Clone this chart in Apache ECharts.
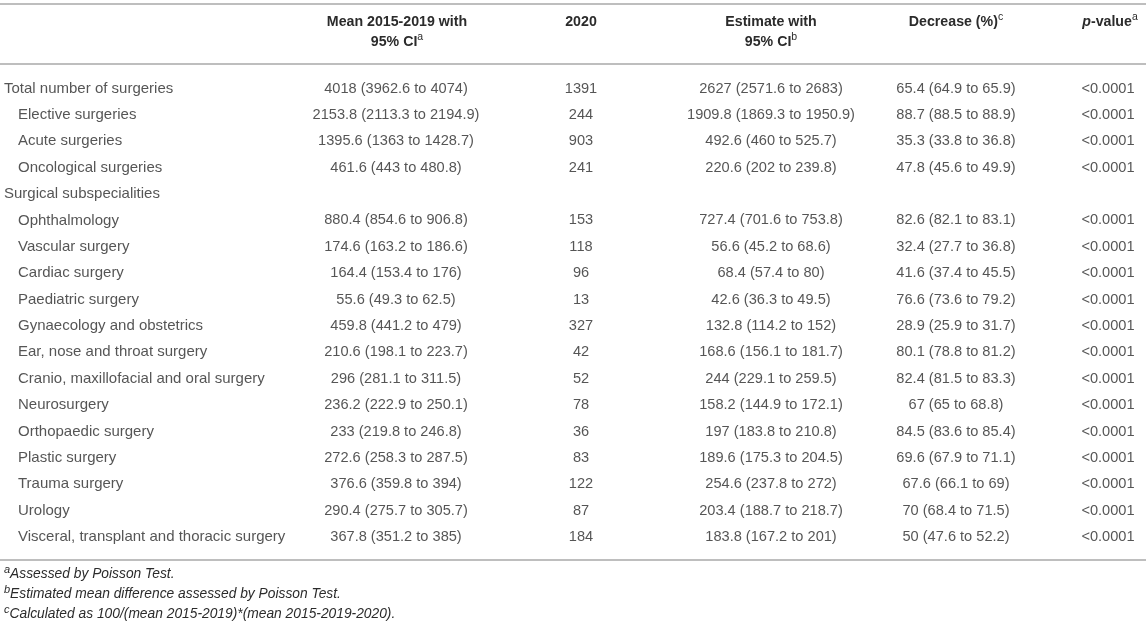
<!DOCTYPE html>
<html>
<head>
<meta charset="utf-8">
<script src="https://cdn.jsdelivr.net/npm/echarts@6/dist/echarts.min.js"></script>
<style>
  html, body { margin: 0; padding: 0; background: #fff; }
  #chart { width: 1146px; height: 628px; }
</style>
</head>
<body>
<div id="chart"></div>
<script>
// table rows
const ROW_LABELS = [
  'Total number of surgeries', 'Elective surgeries', 'Acute surgeries', 'Oncological surgeries',
  'Surgical subspecialities', 'Ophthalmology', 'Vascular surgery', 'Cardiac surgery',
  'Paediatric surgery', 'Gynaecology and obstetrics', 'Ear, nose and throat surgery',
  'Cranio, maxillofacial and oral surgery', 'Neurosurgery', 'Orthopaedic surgery',
  'Plastic surgery', 'Trauma surgery', 'Urology', 'Visceral, transplant and thoracic surgery'
];
const ROW_INDENT = [0, 1, 1, 1, 0, 1, 1, 1, 1, 1, 1, 1, 1, 1, 1, 1, 1, 1];

// mean 2015-2019 with 95% CI
const MEAN    = [4018, 2153.8, 1395.6, 461.6, null, 880.4, 174.6, 164.4, 55.6, 459.8, 210.6, 296, 236.2, 233, 272.6, 376.6, 290.4, 367.8];
const MEAN_LO = [3962.6, 2113.3, 1363, 443, null, 854.6, 163.2, 153.4, 49.3, 441.2, 198.1, 281.1, 222.9, 219.8, 258.3, 359.8, 275.7, 351.2];
const MEAN_HI = [4074, 2194.9, 1428.7, 480.8, null, 906.8, 186.6, 176, 62.5, 479, 223.7, 311.5, 250.1, 246.8, 287.5, 394, 305.7, 385];

// 2020 counts
const N2020 = [1391, 244, 903, 241, null, 153, 118, 96, 13, 327, 42, 52, 78, 36, 83, 122, 87, 184];

// estimate with 95% CI
const EST    = [2627, 1909.8, 492.6, 220.6, null, 727.4, 56.6, 68.4, 42.6, 132.8, 168.6, 244, 158.2, 197, 189.6, 254.6, 203.4, 183.8];
const EST_LO = [2571.6, 1869.3, 460, 202, null, 701.6, 45.2, 57.4, 36.3, 114.2, 156.1, 229.1, 144.9, 183.8, 175.3, 237.8, 188.7, 167.2];
const EST_HI = [2683, 1950.9, 525.7, 239.8, null, 753.8, 68.6, 80, 49.5, 152, 181.7, 259.5, 172.1, 210.8, 204.5, 272, 218.7, 201];

// decrease (%)
const DEC    = [65.4, 88.7, 35.3, 47.8, null, 82.6, 32.4, 41.6, 76.6, 28.9, 80.1, 82.4, 67, 84.5, 69.6, 67.6, 70, 50];
const DEC_LO = [64.9, 88.5, 33.8, 45.6, null, 82.1, 27.7, 37.4, 73.6, 25.9, 78.8, 81.5, 65, 83.6, 67.9, 66.1, 68.4, 47.6];
const DEC_HI = [65.9, 88.9, 36.8, 49.9, null, 83.1, 36.8, 45.5, 79.2, 31.7, 81.2, 83.3, 68.8, 85.4, 71.1, 69, 71.5, 52.2];

// p-values
const P_VALUES = ['<0.0001', '<0.0001', '<0.0001', '<0.0001', '', '<0.0001', '<0.0001', '<0.0001', '<0.0001',
  '<0.0001', '<0.0001', '<0.0001', '<0.0001', '<0.0001', '<0.0001', '<0.0001', '<0.0001', '<0.0001'];

const FOOTNOTES = [
  ['a', 'Assessed by Poisson Test.'],
  ['b', 'Estimated mean difference assessed by Poisson Test.'],
  ['c', 'Calculated as 100/(mean 2015-2019)*(mean 2015-2019-2020).']
];

// layout
const W = 1146, H = 628;
const FONT = '"Liberation Sans", Arial, Helvetica, sans-serif';
const INK = '#2b2b2b';
const RULE = '#a8a8a8';
const COL = { label: 4, indent: 18, mean: 396, n: 581, est: 771, dec: 956, p: 1108 };
const FIRST_ROW_Y = 88.5, LAST_ROW_Y = 537;

const rowH = (LAST_ROW_Y - FIRST_ROW_Y) / (ROW_LABELS.length - 1);
const gridTop = FIRST_ROW_Y - rowH / 2;
const gridBottom = H - (gridTop + rowH * ROW_LABELS.length);

function ci(v, lo, hi) {
  return v == null ? '' : `${v} (${lo} to ${hi})`;
}

function column(x, texts, align, size) {
  return {
    type: 'scatter',
    symbolSize: 1,
    itemStyle: { color: 'rgba(0,0,0,0)' },
    silent: true,
    data: texts.map((t, i) => ({ value: [typeof x === 'function' ? x(i) : x, i], text: t })),
    label: {
      show: true,
      position: 'inside',
      align: align,
      verticalAlign: 'middle',
      color: INK,
      fontSize: size || 14.6,
      fontFamily: FONT,
      formatter: p => p.data.text
    }
  };
}

const supStyle = { fontSize: 10.5, fontFamily: FONT, color: INK, verticalAlign: 'top', lineHeight: 20 };
const headRich = {
  b: { fontSize: 14.2, fontWeight: 'bold', fontFamily: FONT, color: INK, lineHeight: 20 },
  bi: { fontSize: 14.2, fontWeight: 'bold', fontStyle: 'italic', fontFamily: FONT, color: INK, lineHeight: 20 },
  sup: supStyle
};
const footRich = {
  i: { fontSize: 13.8, fontStyle: 'italic', fontFamily: FONT, color: INK, lineHeight: 20 },
  sup: Object.assign({}, supStyle, { fontStyle: 'italic', fontSize: 11 })
};

function headText(x, y, text) {
  return {
    type: 'text', x: x, y: y, silent: true,
    style: { text: text, rich: headRich, align: 'center', verticalAlign: 'top', fill: INK }
  };
}

function rule(y) {
  return { type: 'line', silent: true, shape: { x1: 0, y1: y, x2: W, y2: y }, style: { stroke: RULE, lineWidth: 1.5 } };
}

const chart = echarts.init(document.getElementById('chart'), null, { renderer: 'canvas' });
chart.setOption({
  animation: false,
  backgroundColor: '#fff',
  grid: { left: 0, right: 0, top: gridTop, bottom: gridBottom },
  xAxis: { type: 'value', min: 0, max: W, show: false },
  yAxis: { type: 'category', inverse: true, data: ROW_LABELS.map((_, i) => i), show: false },
  series: [
    column(i => ROW_INDENT[i] ? COL.indent : COL.label, ROW_LABELS, 'left', 15),
    column(COL.mean, MEAN.map((v, i) => ci(v, MEAN_LO[i], MEAN_HI[i])), 'center'),
    column(COL.n, N2020.map(v => v == null ? '' : String(v)), 'center'),
    column(COL.est, EST.map((v, i) => ci(v, EST_LO[i], EST_HI[i])), 'center'),
    column(COL.dec, DEC.map((v, i) => ci(v, DEC_LO[i], DEC_HI[i])), 'center'),
    column(COL.p, P_VALUES, 'center')
  ],
  graphic: [
    rule(4),
    rule(64),
    rule(560),
    headText(COL.mean + 1, 12, '{b|Mean 2015-2019 with}\n{b|95% CI}{sup|a}'),
    headText(COL.n, 12, '{b|2020}'),
    headText(COL.est, 12, '{b|Estimate with}\n{b|95% CI}{sup|b}'),
    headText(COL.dec, 12, '{b|Decrease (%)}{sup|c}'),
    headText(COL.p + 2, 12, '{bi|p}{b|-value}{sup|a}')
  ].concat(FOOTNOTES.map((f, k) => ({
    type: 'text', x: COL.label, y: 564 + k * 20, silent: true,
    style: { text: `{sup|${f[0]}}{i|${f[1]}}`, rich: footRich, verticalAlign: 'top', fill: INK }
  })))
});
</script>
</body>
</html>
